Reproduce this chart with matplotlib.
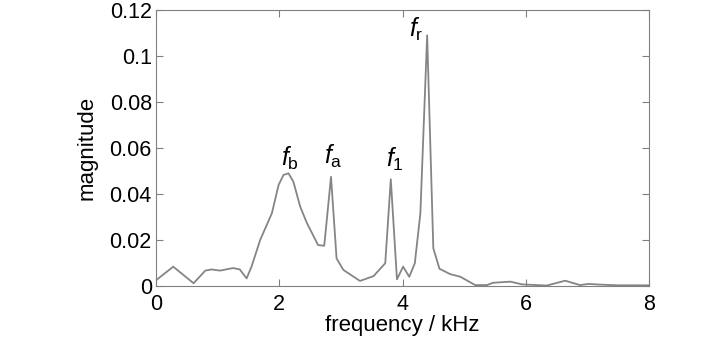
import matplotlib.pyplot as plt
import matplotlib.font_manager as fm

# spectrum (kHz, magnitude)
freq = [0.0, 0.28, 0.61, 0.80, 0.90, 1.04, 1.25, 1.36, 1.47, 1.55, 1.69, 1.88, 1.99,
        2.07, 2.15, 2.23, 2.34, 2.45, 2.63, 2.73, 2.84, 2.93, 3.04, 3.31, 3.53, 3.72,
        3.81, 3.91, 4.01, 4.11, 4.20, 4.29, 4.40, 4.50, 4.60, 4.77, 4.94, 5.18, 5.37,
        5.47, 5.75, 5.94, 6.34, 6.64, 6.88, 7.02, 7.21, 7.5, 8.0]
mag = [0.0025, 0.0084, 0.0012, 0.0067, 0.0072, 0.0067, 0.0078, 0.0072, 0.0033, 0.0084,
       0.020, 0.0316, 0.044, 0.0483, 0.049, 0.0453, 0.0345, 0.0273, 0.0178, 0.0175,
       0.0475, 0.012, 0.0070, 0.0022, 0.0043, 0.0099, 0.0464, 0.0029, 0.0084, 0.0040,
       0.0099, 0.0316, 0.109, 0.0164, 0.0075, 0.0052, 0.0040, 0.0004, 0.0004, 0.0014,
       0.0019, 0.0007, 0.0002, 0.0023, 0.0004, 0.0009, 0.0006, 0.0003, 0.0003]

peak_labels = [r'$f_\mathrm{b}$', r'$f_\mathrm{a}$', r'$f_\mathrm{1}$', r'$f_\mathrm{r}$']
peak_x = [2.17, 2.87, 3.88, 4.22]
peak_y = [0.0555, 0.0565, 0.0550, 0.1115]

names = {f.name for f in fm.fontManager.ttflist}
fam = 'Liberation Sans Narrow' if 'Liberation Sans Narrow' in names else 'Liberation Sans'
plt.rcParams['font.family'] = [fam, 'DejaVu Sans']
plt.rcParams['mathtext.fontset'] = 'custom'
plt.rcParams['mathtext.it'] = fam + ':italic'
plt.rcParams['mathtext.rm'] = fam

fig = plt.figure(figsize=(7.28, 3.38), dpi=100)
ax = fig.add_axes([156 / 728, 1 - 286 / 338, 493 / 728, 276 / 338])

ax.plot(freq, mag, color='#858585', linewidth=1.3)

for lab, x, y in zip(peak_labels, peak_x, peak_y):
    ax.text(x, y, lab, fontsize=18, ha='center', va='center', color='black')

ax.set_xlim(0, 8)
ax.set_ylim(0, 0.12)
ax.set_xticks([0, 2, 4, 6, 8])
ax.set_yticks([0, 0.02, 0.04, 0.06, 0.08, 0.1, 0.12])
ax.set_yticklabels(['0', '0.02', '0.04', '0.06', '0.08', '0.1', '0.12'])
ax.tick_params(direction='in', top=True, right=True, length=5, color='#808080',
               labelsize=15.5)
ax.tick_params(axis='x', pad=6)
ax.tick_params(axis='y', pad=3)
for s in ax.spines.values():
    s.set_color('#808080')

ax.set_xlabel('frequency / kHz', fontsize=16, labelpad=0)
ax.set_ylabel('magnitude', fontsize=16, labelpad=9)

fig.savefig('out.png', dpi=100)
